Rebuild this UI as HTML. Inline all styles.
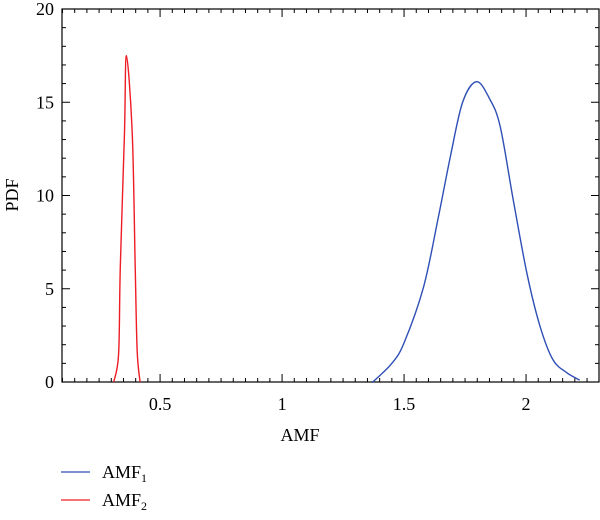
<!DOCTYPE html>
<html><head><meta charset="utf-8">
<style>
html,body{margin:0;padding:0;background:#fff;}
svg{display:block;font-family:"Liberation Serif",serif;}
</style></head>
<body>
<svg id="chart" width="600" height="520" viewBox="0 0 600 520">
  <g id="axes"></g>
  <g id="series"></g>
  <text x="300" y="441" font-size="18" text-anchor="middle">AMF</text>
  <text transform="translate(18,195) rotate(-90)" font-size="18" text-anchor="middle">PDF</text>
  <g>
    <g>
      <line x1="61" y1="472" x2="90" y2="472" stroke="#2e4fb5" stroke-width="1.3"/>
      <text x="102" y="478" font-size="18">AMF<tspan font-size="12" dy="4">1</tspan></text>
    </g>
    <g>
      <line x1="61" y1="500" x2="90" y2="500" stroke="#ee1c25" stroke-width="1.3"/>
      <text x="102" y="506" font-size="18">AMF<tspan font-size="12" dy="4">2</tspan></text>
    </g>
  </g>
</svg>
<script>
const xTickValues = [0.5, 1, 1.5, 2];
const xTickLabels = ["0.5", "1", "1.5", "2"];
const yTickValues = [0, 5, 10, 15, 20];
const yTickLabels = ["0", "5", "10", "15", "20"];
const amf1X = [1.37, 1.38, 1.45, 1.50, 1.58, 1.64, 1.69, 1.74, 1.797, 1.85, 1.894, 1.947, 2.004, 2.057, 2.11, 2.167, 2.22];
const amf1Y = [0.0, 0.1, 1.0, 2.1, 5.1, 8.8, 12.1, 15.0, 16.1, 15.2, 13.7, 9.8, 5.8, 3.0, 1.2, 0.5, 0.1];
const amf2X = [0.31, 0.33, 0.337, 0.354, 0.362, 0.386, 0.398, 0.406, 0.418];
const amf2Y = [0.0, 1.5, 6.2, 13.3, 17.5, 13.3, 6.2, 1.7, 0.0];

const L = 62, R = 599, T = 9, B = 382;
const xMin = 0.098, xMax = 2.299, yMin = 0, yMax = 20;
function sx(v){ return L + (v - xMin) / (xMax - xMin) * (R - L); }
function sy(v){ return B - (v - yMin) / (yMax - yMin) * (B - T); }
const NS = "http://www.w3.org/2000/svg";
const axes = document.getElementById('axes');
const series = document.getElementById('series');

const frame = document.createElementNS(NS, 'rect');
frame.setAttribute('x', L); frame.setAttribute('y', T);
frame.setAttribute('width', R - L); frame.setAttribute('height', B - T);
frame.setAttribute('fill', 'none'); frame.setAttribute('stroke', '#000'); frame.setAttribute('stroke-width', '1.2');


axes.appendChild(frame);

function tick(x1, y1, x2, y2, name){
  const l = document.createElementNS(NS, 'line');
  l.setAttribute('x1', x1); l.setAttribute('y1', y1); l.setAttribute('x2', x2); l.setAttribute('y2', y2);
  l.setAttribute('stroke', '#000'); l.setAttribute('stroke-width', '1');
  
  
  axes.appendChild(l);
}
for (let k = Math.ceil(xMin / 0.05); k * 0.05 <= xMax; k++) {
  const v = k * 0.05; const px = sx(v);
  const major = Math.abs(v * 2 - Math.round(v * 2)) < 1e-6;
  const len = major ? 8 : 4;
  tick(px, B, px, B - len, 'x-tick');
  tick(px, T, px, T + len, 'x-tick-top');
}
for (let v = 0; v <= 20; v++) {
  const py = sy(v); const len = (v % 5 === 0) ? 8 : 4;
  tick(L, py, L + len, py, 'y-tick');
  tick(R, py, R - len, py, 'y-tick-right');
}
xTickValues.forEach((v, i) => {
  const t = document.createElementNS(NS, 'text');
  t.setAttribute('x', sx(v)); t.setAttribute('y', B + 28);
  t.setAttribute('font-size', '18'); t.setAttribute('text-anchor', 'middle');
  t.textContent = xTickLabels[i];
  
  
  axes.appendChild(t);
});
yTickValues.forEach((v, i) => {
  const t = document.createElementNS(NS, 'text');
  t.setAttribute('x', L - 8); t.setAttribute('y', sy(v) + 6);
  t.setAttribute('font-size', '18'); t.setAttribute('text-anchor', 'end');
  t.textContent = yTickLabels[i];
  
  
  axes.appendChild(t);
});

function smoothPath(xs, ys){
  const p = xs.map((x, i) => [sx(x), sy(ys[i])]);
  let d = 'M' + p[0][0] + ',' + p[0][1];
  for (let i = 0; i < p.length - 1; i++) {
    const p0 = p[Math.max(0, i - 1)], p1 = p[i], p2 = p[i + 1], p3 = p[Math.min(p.length - 1, i + 2)];
    const c1 = [p1[0] + (p2[0] - p0[0]) / 6, p1[1] + (p2[1] - p0[1]) / 6];
    const c2 = [p2[0] - (p3[0] - p1[0]) / 6, p2[1] - (p3[1] - p1[1]) / 6];
    d += ' C' + c1[0] + ',' + c1[1] + ' ' + c2[0] + ',' + c2[1] + ' ' + p2[0] + ',' + p2[1];
  }
  return d;
}
function addLine(xs, ys, color, name){
  const path = document.createElementNS(NS, 'path');
  path.setAttribute('d', smoothPath(xs, ys));
  path.setAttribute('fill', 'none'); path.setAttribute('stroke', color); path.setAttribute('stroke-width', '1.4');
  
  
  series.appendChild(path);
}
addLine(amf1X, amf1Y, '#2e4fb5', 'amf1-line');
addLine(amf2X, amf2Y, '#ee1c25', 'amf2-line');
</script>
</body></html>
